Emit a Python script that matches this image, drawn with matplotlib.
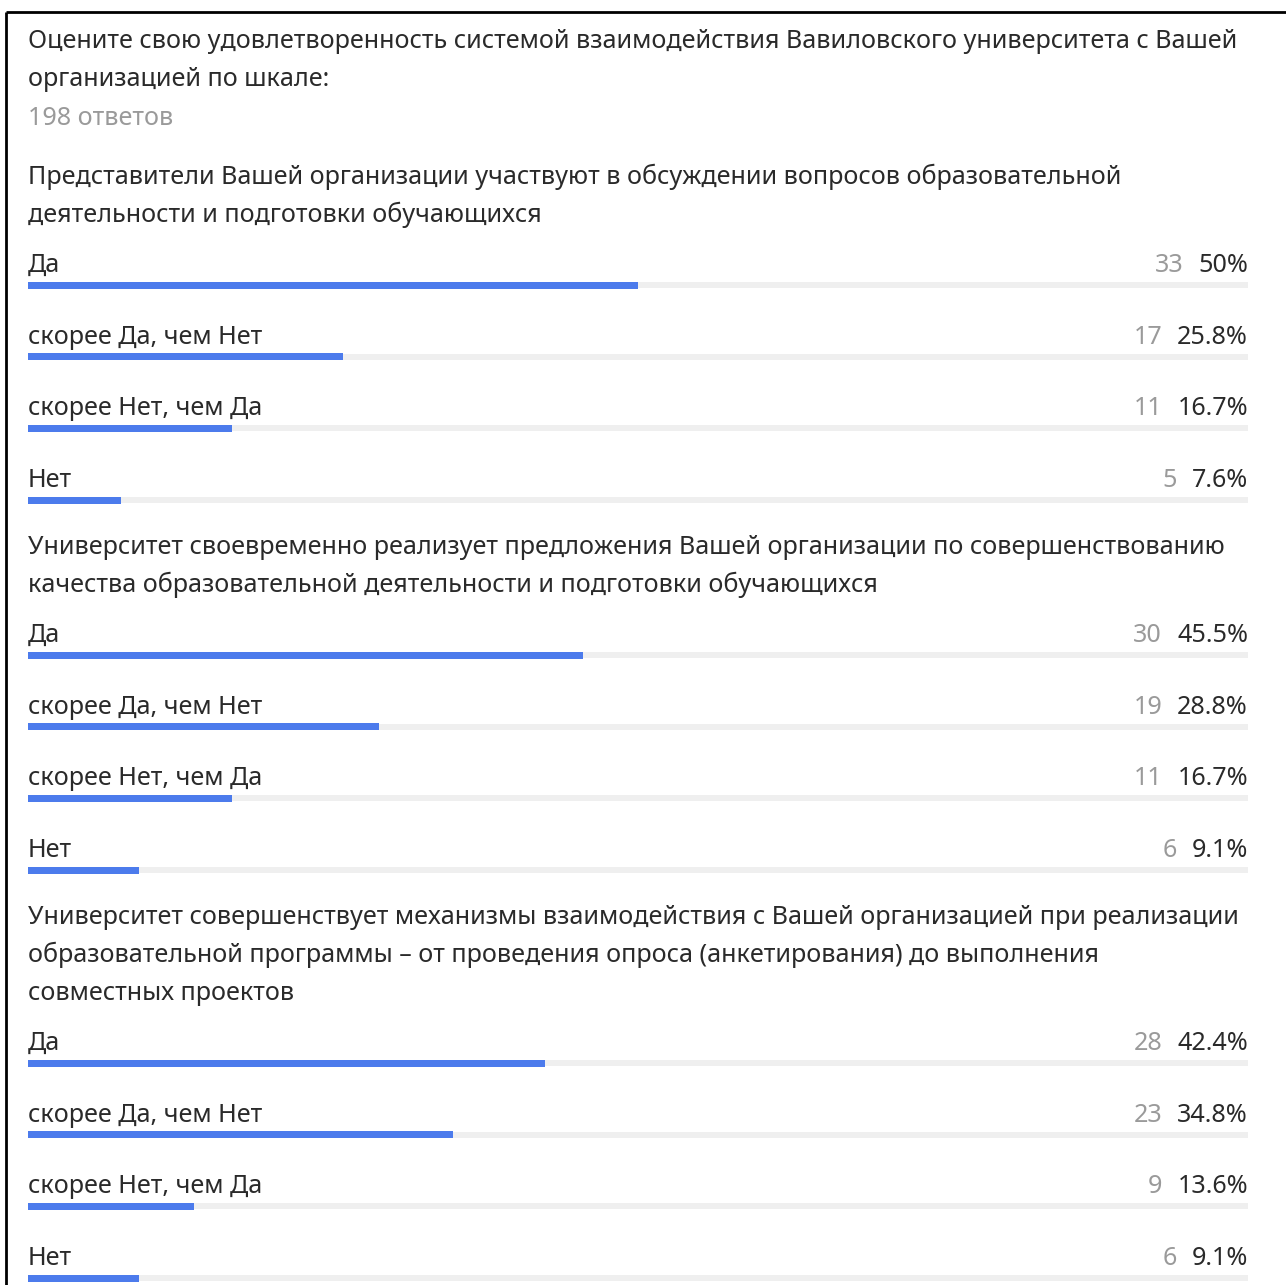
import matplotlib
matplotlib.use("Agg")
import matplotlib.pyplot as plt

plt.rcParams['font.family'] = ['Noto Sans', 'DejaVu Sans']

title_lines = ["Оцените свою удовлетворенность системой взаимодействия Вавиловского университета с Вашей",
               "организацией по шкале:"]
responses = "198 ответов"
questions = [
    ["Представители Вашей организации участвуют в обсуждении вопросов образовательной",
     "деятельности и подготовки обучающихся"],
    ["Университет своевременно реализует предложения Вашей организации по совершенствованию",
     "качества образовательной деятельности и подготовки обучающихся"],
    ["Университет совершенствует механизмы взаимодействия с Вашей организацией при реализации",
     "образовательной программы – от проведения опроса (анкетирования) до выполнения",
     "совместных проектов"],
]
options = ["Да", "скорее Да, чем Нет", "скорее Нет, чем Да", "Нет"]
counts = [[33, 17, 11, 5], [30, 19, 11, 6], [28, 23, 9, 6]]
percents = [[50.0, 25.8, 16.7, 7.6], [45.5, 28.8, 16.7, 9.1], [42.4, 34.8, 13.6, 9.1]]
pct_labels = [["50%", "25.8%", "16.7%", "7.6%"], ["45.5%", "28.8%", "16.7%", "9.1%"],
              ["42.4%", "34.8%", "13.6%", "9.1%"]]

W, H = 1286, 1285
fig = plt.figure(figsize=(W / 100, H / 100), dpi=100)
ax = fig.add_axes([0, 0, 1, 1])
ax.set_xlim(0, W)
ax.set_ylim(H, 0)
ax.axis('off')

# bar axes: x in percent, y in pixels
L, R = 28, 1248
ax2 = fig.add_axes([0, 0, 1, 1])
ax2.set_xlim(-L / (R - L) * 100, (W - L) / (R - L) * 100)
ax2.set_ylim(H, 0)
ax2.axis('off')

TXT = '#2a2a2a'
GRAY = '#9a9a9a'
BLUE = '#4c7bec'
TRACK = '#efefef'
FS = 18.1

# border
ax.plot([6, 6], [12, H], color='black', lw=2, solid_capstyle='butt')
ax.plot([6, W], [12, 12], color='black', lw=2, solid_capstyle='butt')

y = 40
for line in title_lines:
    ax.text(L, y + 8, line, fontsize=FS, color=TXT, va='baseline', ha='left')
    y += 38
ax.text(L, 117 + 8, responses, fontsize=FS, color=GRAY, va='baseline', ha='left')

q_tops = [176, 546, 916]
for qi, qlines in enumerate(questions):
    y = q_tops[qi]
    for line in qlines:
        ax.text(L, y + 8, line, fontsize=FS, color=TXT, va='baseline', ha='left')
        y += 38
    y0 = y + 12
    for oi, opt in enumerate(options):
        ly = y0 + oi * 71.7
        ax.text(L, ly + 8, opt, fontsize=FS, color=TXT, va='baseline', ha='left')
        pt = ax.text(R, ly + 8, pct_labels[qi][oi], fontsize=FS, color=TXT, va='baseline', ha='right')
        ax.annotate(str(counts[qi][oi]), xy=(0, 0), xycoords=pt, xytext=(-15, 0),
                    textcoords='offset pixels', fontsize=FS, color=GRAY, va='bottom', ha='right')
        by = ly + 21
        ax2.barh(by, 100, left=0, height=6, color=TRACK)
        ax2.barh(by, percents[qi][oi], left=0, height=7, color=BLUE)

fig.savefig('out.png', dpi=100)
